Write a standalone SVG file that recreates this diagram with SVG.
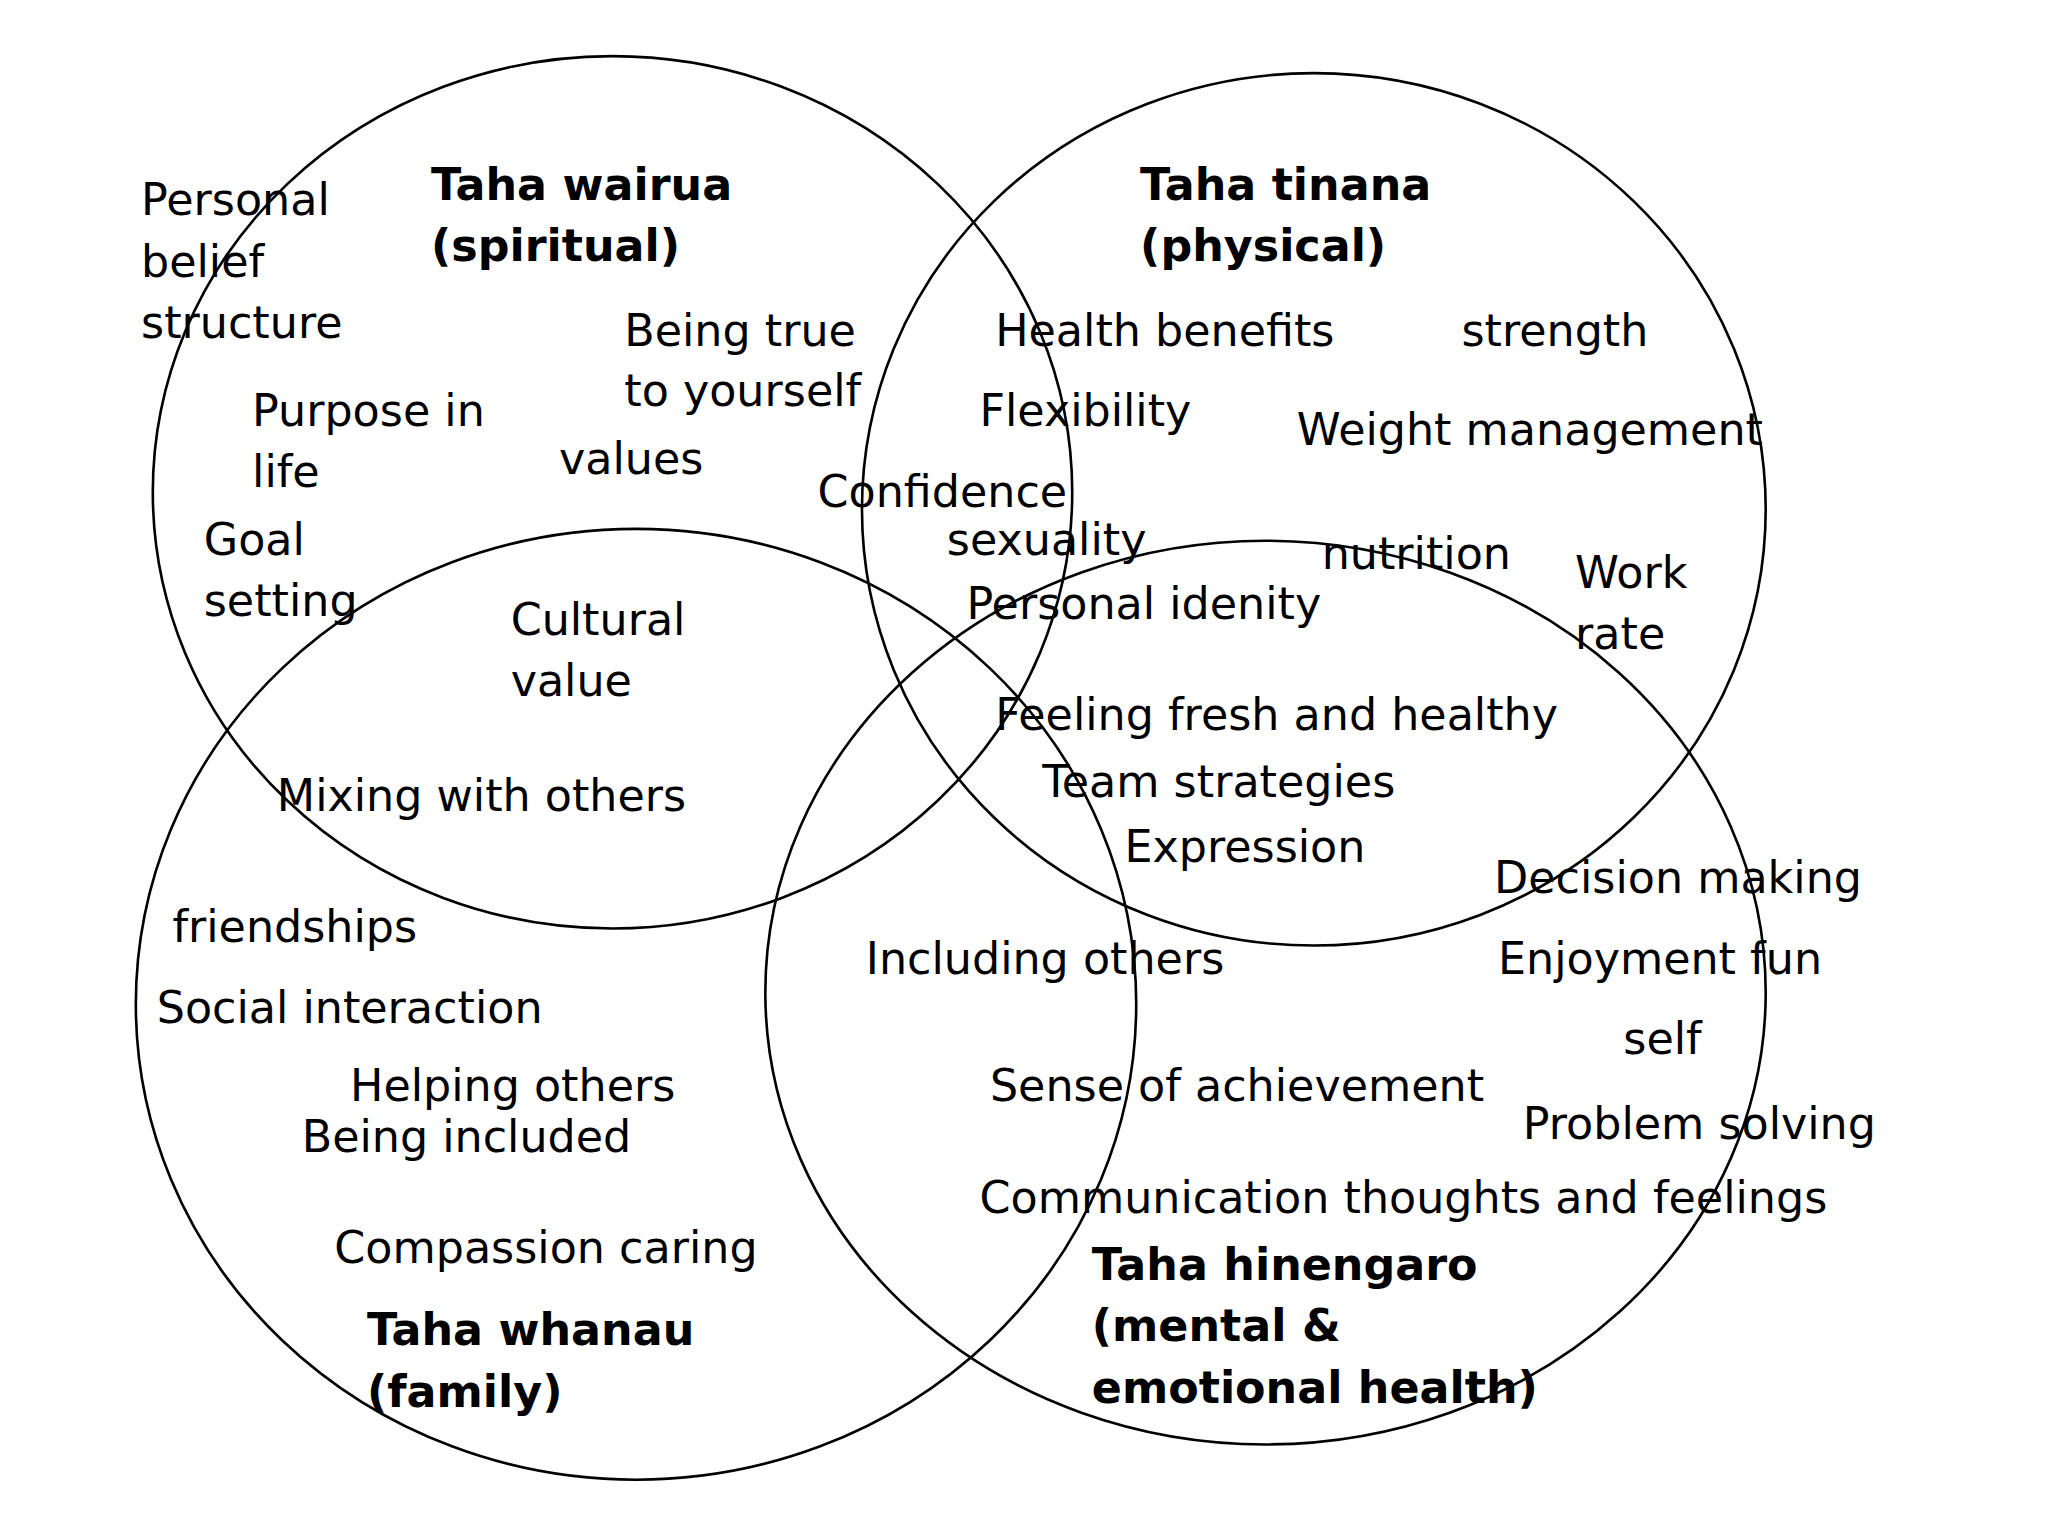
<svg xmlns="http://www.w3.org/2000/svg" width="2048" height="1536" viewBox="0 0 2048 1536">
<style>
.c{fill:none;stroke:#000;stroke-width:2}
text{font-family:"DejaVu Sans",Verdana,sans-serif;font-size:34px;fill:#000}
.b{font-weight:bold}
</style>
<rect width="2048" height="1536" fill="#fff"/>
<g transform="scale(1.306)">
<g id="circles">
<ellipse id="wairua" class="c" cx="469" cy="377" rx="352" ry="334"/>
<ellipse id="tinana" class="c" cx="1006" cy="390" rx="346" ry="334"/>
<ellipse id="whanau" class="c" cx="487" cy="769" rx="383" ry="364"/>
<ellipse id="hinengaro" class="c" cx="969" cy="760" rx="383" ry="346"/>
</g>
<g id="labels">
<text x="108" y="165">Personal</text><text x="108" y="212">belief</text><text x="108" y="259">structure</text>
<text class="b" x="330" y="153">Taha wairua</text><text class="b" x="330" y="200">(spiritual)</text>
<text x="478" y="265">Being true</text><text x="478" y="311">to yourself</text>
<text x="193" y="326">Purpose in</text><text x="193" y="373">life</text>
<text x="428" y="363">values</text>
<text x="156" y="425">Goal</text><text x="156" y="472">setting</text>
<text x="626" y="388">Confidence</text>
<text class="b" x="873" y="153">Taha tinana</text><text class="b" x="873" y="200">(physical)</text>
<text x="762" y="265">Health benefits</text>
<text x="1119" y="265">strength</text>
<text x="750" y="326">Flexibility</text>
<text x="993" y="341">Weight management</text>
<text x="725" y="425">sexuality</text>
<text x="1012" y="436">nutrition</text>
<text x="1206" y="450">Work</text><text x="1206" y="497">rate</text>
<text x="740" y="474">Personal idenity</text>
<text x="391" y="486">Cultural</text><text x="391" y="533">value</text>
<text x="762" y="559">Feeling fresh and healthy</text>
<text x="798" y="610">Team strategies</text>
<text x="212" y="621">Mixing with others</text>
<text x="861" y="660">Expression</text>
<text x="1144" y="684">Decision making</text>
<text x="132" y="721">friendships</text>
<text x="663" y="746">Including others</text>
<text x="1147" y="746">Enjoyment fun</text>
<text x="120" y="783">Social interaction</text>
<text x="1243" y="807">self</text>
<text x="268" y="843">Helping others</text>
<text x="758" y="843">Sense of achievement</text>
<text x="231" y="882">Being included</text>
<text x="1166" y="872">Problem solving</text>
<text x="750" y="929">Communication thoughts and feelings</text>
<text x="256" y="967">Compassion caring</text>
<text class="b" x="836" y="980">Taha hinengaro</text><text class="b" x="836" y="1027">(mental &amp;</text><text class="b" x="836" y="1074">emotional health)</text>
<text class="b" x="281" y="1030">Taha whanau</text><text class="b" x="281" y="1077">(family)</text>
</g>
</g>
</svg>
